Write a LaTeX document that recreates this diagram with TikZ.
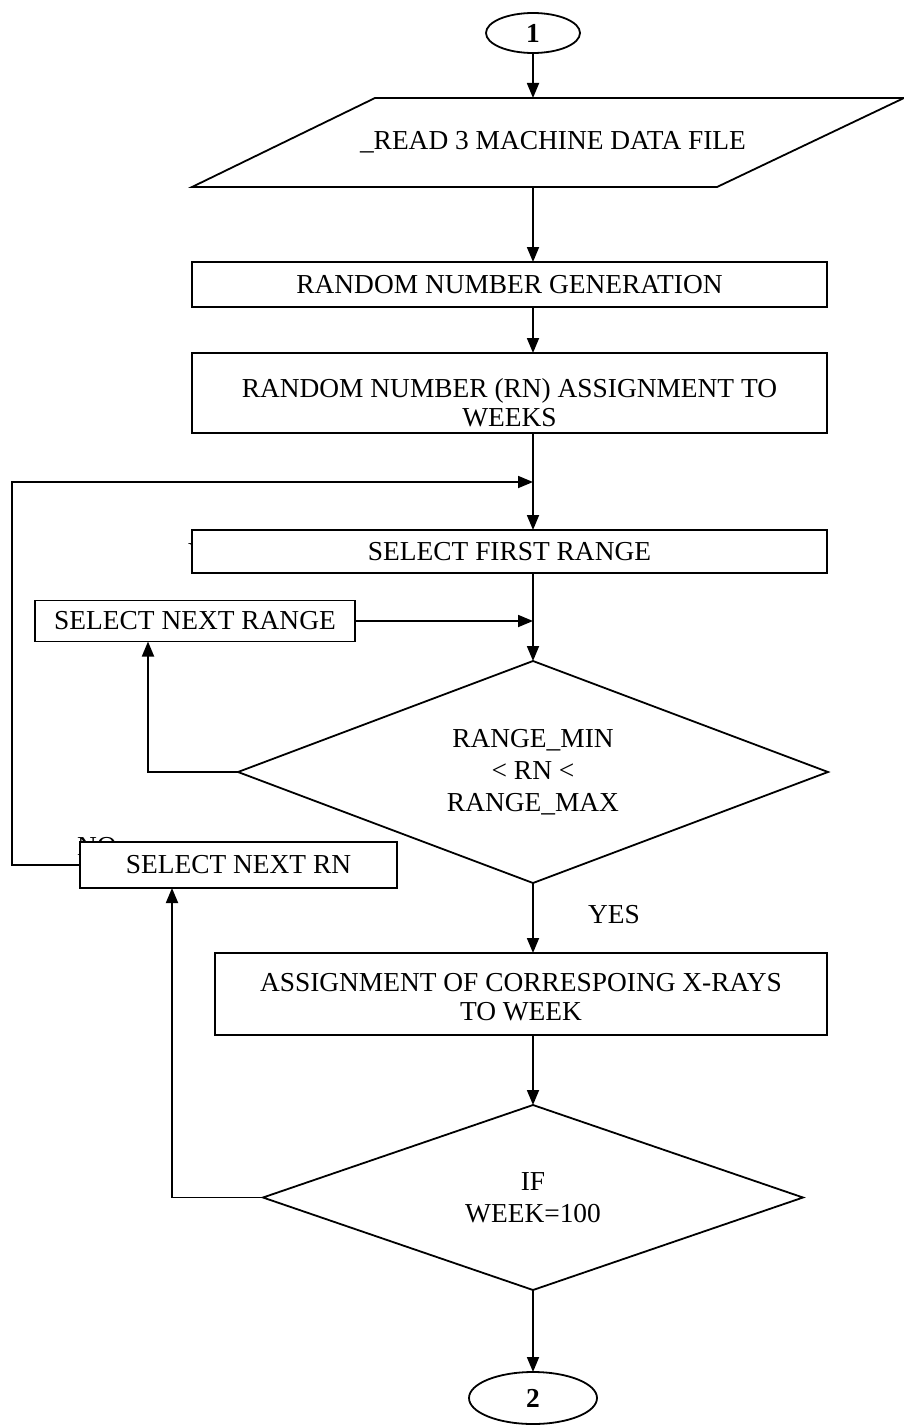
\documentclass[tikz,border=0pt]{standalone}
\usepackage{fontspec}
\setmainfont{Liberation Serif}
\usetikzlibrary{arrows.meta,positioning,shapes.geometric}

\begin{document}
\begin{tikzpicture}[x=1pt, y=-1pt, line width=1.8pt, >={Triangle[length=15pt,width=12pt]},
  font=\fontsize{27.4}{32}\selectfont,
  box/.style={draw, fill=white, inner sep=0pt, outer sep=0pt, align=center},
  txt/.style={inner sep=0pt, align=center, font=\fontsize{27.4}{29}\selectfont},
  dec/.style={draw, diamond, inner sep=0pt, outer sep=0pt, align=center},
  term/.style={draw, ellipse, inner sep=0pt, outer sep=0pt, font=\fontsize{27.4}{32}\selectfont\bfseries},
  m/.style={->}]
\useasboundingbox (0,0) rectangle (904,1426);
% terminals
\node[term, minimum width=94, minimum height=40] (start) at (533,33) {1};
\node[term, minimum width=128, minimum height=52] (stop) at (533,1398) {2};
% input
\draw (192,187) -- (375,98) -- (904,98) -- (717,187) -- cycle;
\coordinate (readtop) at (533,98);
\coordinate (readbot) at (533,187);
\node (read) at (553,142) {\_READ 3 MACHINE DATA FILE};
% labels partly under the boxes
\node[anchor=west] (yhid) at (184,553) {Y};
\node (no) at (97,847) {NO};
% process boxes
\node[box, minimum width=635, minimum height=45] (rng) at (509.5,284.5) {RANDOM NUMBER GENERATION};
\node[box, minimum width=635, minimum height=80] (rna) at (509.5,393) {};
\node[txt] (rnatext) at (509.5,403) {RANDOM NUMBER (RN) ASSIGNMENT TO\\WEEKS};
\node[box, minimum width=635, minimum height=43] (sfr) at (509.5,551.5) {SELECT FIRST RANGE};
\node[box, minimum width=320, minimum height=41] (snr) at (195,621) {SELECT NEXT RANGE};
\node[box, minimum width=317, minimum height=46] (snrn) at (238.5,865) {SELECT NEXT RN};
\node[box, minimum width=612, minimum height=82] (asg) at (521,994) {};
\node[txt] (asgtext) at (521,997) {ASSIGNMENT OF CORRESPOING X-RAYS\\TO WEEK};
% decisions
\node[dec, shape aspect=2.66, minimum width=590, minimum height=222] (rchk) at (533,772) {RANGE\_MIN\\< RN <\\RANGE\_MAX};
\node[dec, shape aspect=2.92, minimum width=540, minimum height=185] (wchk) at (533,1197.5) {IF\\WEEK=100};
\node (yes) at (614,915) {YES};
% flow
\coordinate (loopin) at (533,482);
\coordinate (loopcorner) at (12,482);
\coordinate (rangein) at (533,621);
\draw[m] (start) -- (readtop);
\draw[m] (readbot) -- (rng.north -| start);
\draw[m] (rng.south -| start) -- (rna.north -| start);
\draw[m] (rna.south -| start) -- (sfr.north -| start);
\draw[m] (snrn.west) -| (loopcorner) -- (loopin);
\draw[m] (sfr.south -| start) -- (rchk.north);
\draw[m] (snr.east) -- (rangein);
\draw[m] (rchk.west) -| ([xshift=-47pt]snr.south);
\draw[m] (rchk.south) -- (asg.north -| start);
\draw[m] (asg.south -| start) -- (wchk.north);
\draw[m] (wchk.west) -| ([xshift=-66.5pt]snrn.south);
\draw[m] (wchk.south) -- (stop);
\end{tikzpicture}
\end{document}
